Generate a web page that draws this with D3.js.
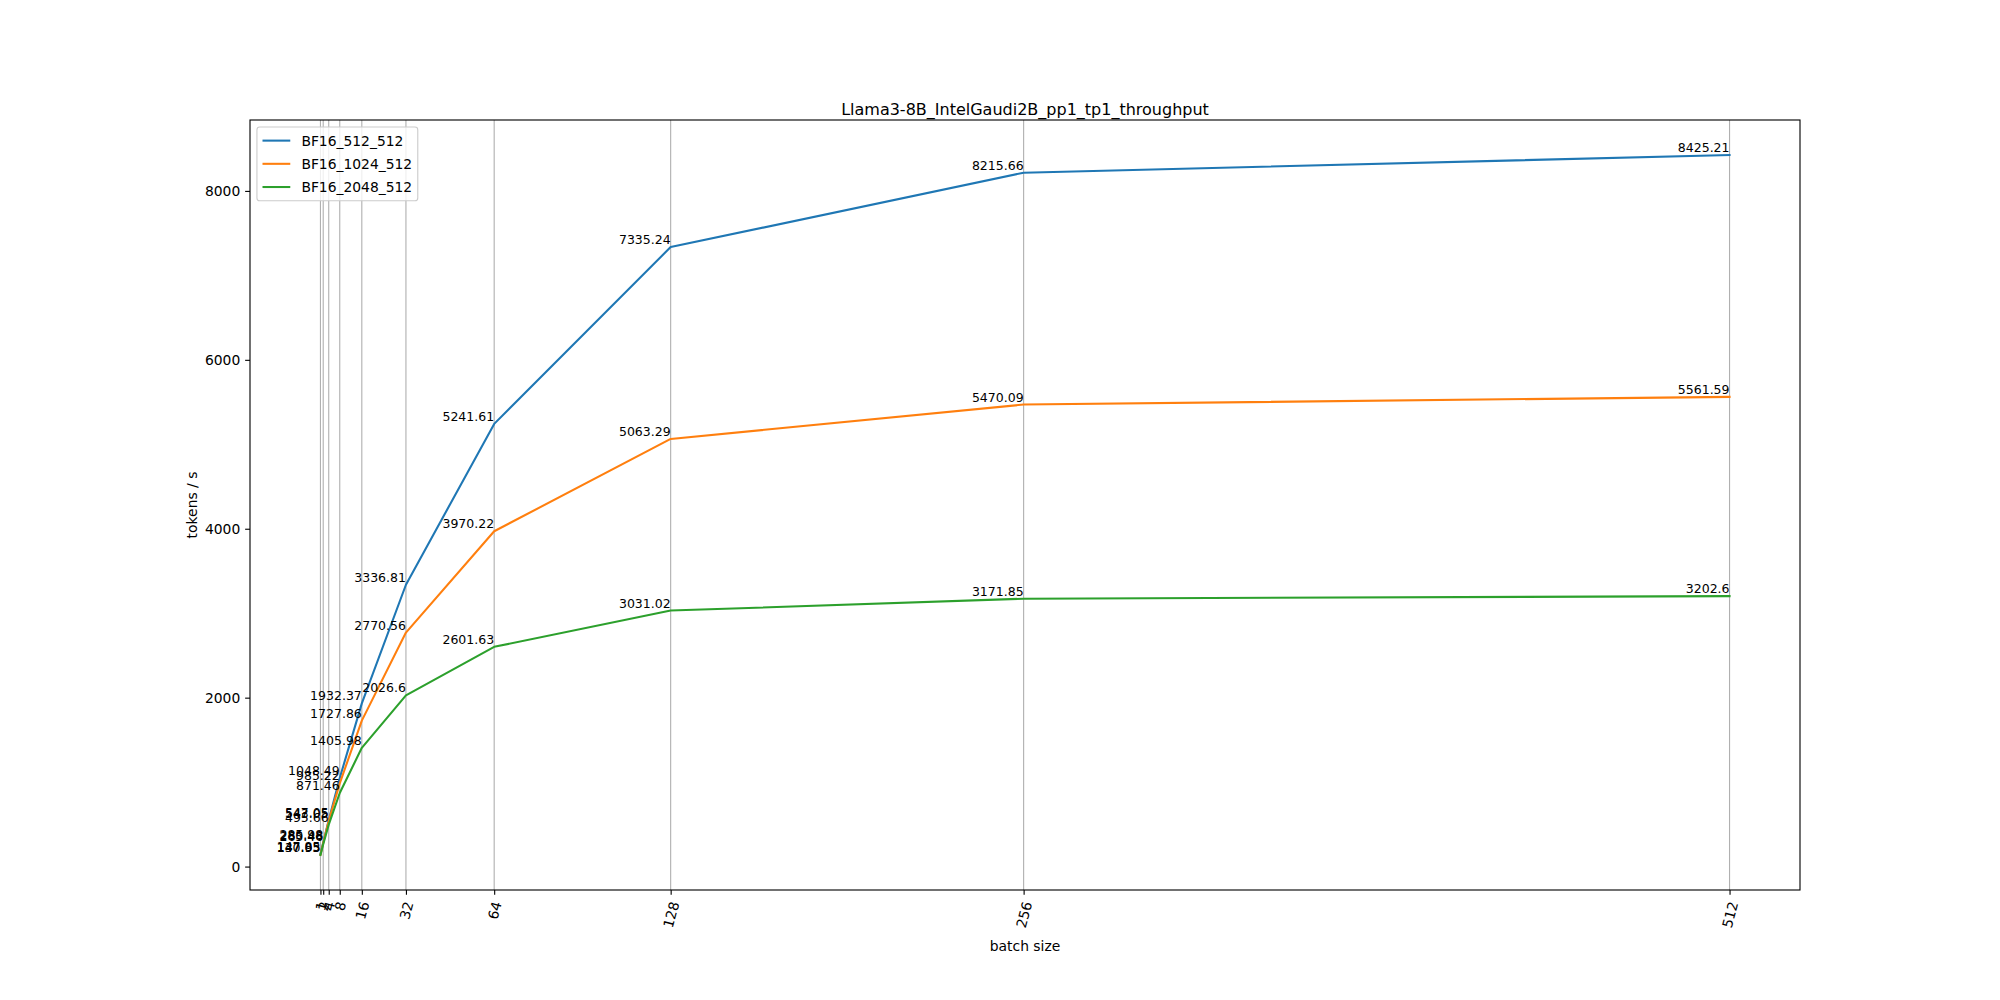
<!DOCTYPE html>
<html><head><meta charset="utf-8">
<script src="https://cdn.jsdelivr.net/npm/d3@7"></script>
<style>body{margin:0;background:#fff}text{font-family:"DejaVu Sans",sans-serif}</style>
</head><body><svg id="c" width="2000" height="1000"></svg>
<script>
const batchSizes = [1, 2, 4, 8, 16, 32, 64, 128, 256, 512];
const seriesNames = ["BF16_512_512", "BF16_1024_512", "BF16_2048_512"];
const bf16_512_512 = [147.85, 285.98, 547.05, 1048.49, 1932.37, 3336.81, 5241.61, 7335.24, 8215.66, 8425.21];
const bf16_1024_512 = [140.93, 280.48, 543.05, 985.22, 1727.86, 2770.56, 3970.22, 5063.29, 5470.09, 5561.59];
const bf16_2048_512 = [137.05, 265.46, 495.66, 871.46, 1405.98, 2026.6, 2601.63, 3031.02, 3171.85, 3202.6];
const yTicks = [0, 2000, 4000, 6000, 8000];
const colors = ["#1f77b4", "#ff7f0e", "#2ca02c"];
const titleText = "Llama3-8B_IntelGaudi2B_pp1_tp1_throughput";

const series = [bf16_512_512, bf16_1024_512, bf16_2048_512];
const svg = d3.select("#c");
const L = 250, R = 1800, T = 120, B = 890;
const fs = 13.89, fsv = 12.5;

const allV = series.flat();
const ymin = d3.min(allV), ymax = d3.max(allV);
const xm = (512 - 1) * 0.05, ym = (ymax - ymin) * 0.05;
const x = d3.scaleLinear().domain([1 - xm, 512 + xm]).range([L, R]);
const y = d3.scaleLinear().domain([ymin - ym, ymax + ym]).range([B, T]);

// grid (x only)
svg.append("g").selectAll("line").data(batchSizes).join("line")
  .attr("x1", d => x(d)).attr("x2", d => x(d)).attr("y1", T).attr("y2", B)
  .attr("stroke", "#b0b0b0").attr("stroke-width", 1.11);

// lines
const line = d3.line().x((d, i) => x(batchSizes[i])).y(d => y(d));
series.forEach((s, k) => {
  svg.append("path").datum(s).attr("d", line).attr("fill", "none")
    .attr("stroke", colors[k]).attr("stroke-width", 2.08).attr("stroke-linejoin", "round").attr("stroke-linecap", "square");
});
// value labels
series.forEach((s, k) => {
  svg.append("g").selectAll("text").data(s).join("text")
    .attr("x", (d, i) => x(batchSizes[i])).attr("y", d => y(d) - 2.95)
    .attr("text-anchor", "end").attr("font-size", fsv).attr("fill", "#000")
    .text(d => String(d));
});

// spines
svg.append("rect").attr("x", L).attr("y", T).attr("width", R - L).attr("height", B - T)
  .attr("fill", "none").attr("stroke", "#000").attr("stroke-width", 1.11);

// x axis
const xa = svg.append("g").attr("transform", `translate(0,${B})`)
  .call(d3.axisBottom(x).tickValues(batchSizes).tickSize(4.86).tickPadding(4.86).tickFormat(d3.format("d")));
xa.select(".domain").remove();
xa.selectAll("line").attr("stroke-width", 1.11);
xa.selectAll("text").each(function(d) {
  const t = d3.select(this);
  t.attr("font-size", fs).attr("font-family", "DejaVu Sans").attr("dy", null).attr("y", null);
  const w = this.getComputedTextLength();
  const h = fs * 1.17;
  const a = 75 * Math.PI / 180;
  const bh = w * Math.sin(a) + h * Math.cos(a);
  const cy = 4.86 + 4.86 + bh / 2;
  t.attr("text-anchor", "middle").attr("dominant-baseline", "central")
    .attr("transform", `translate(0,${cy}) rotate(-75)`);
});

// y axis
const ya = svg.append("g").attr("transform", `translate(${L},0)`)
  .call(d3.axisLeft(y).tickValues(yTicks).tickSize(4.86).tickPadding(4.86).tickFormat(d3.format("d")));
ya.select(".domain").remove();
ya.selectAll("line").attr("stroke-width", 1.11);
ya.selectAll("text").attr("font-size", fs).attr("font-family", "DejaVu Sans");

// labels
svg.append("text").attr("x", (L + R) / 2).attr("y", 115).attr("text-anchor", "middle")
  .attr("font-size", 16.0).text(titleText);
svg.append("text").attr("x", (L + R) / 2).attr("y", 951).attr("text-anchor", "middle")
  .attr("font-size", fs).text("batch size");
svg.append("text").attr("transform", `translate(197,${(T + B) / 2}) rotate(-90)`).attr("text-anchor", "middle")
  .attr("font-size", fs).text("tokens / s");

// legend
const lg = svg.append("g");
const lx = L + 6.94, ly = T + 6.94;
const rowH = fs * 1.17, sp = fs * 0.5;
const tmp = lg.selectAll("text.l").data(seriesNames).join("text").attr("class", "l")
  .attr("font-size", fs).text(d => d);
let maxW = 0; tmp.each(function(){ maxW = Math.max(maxW, this.getComputedTextLength()); });
const pad = fs * 0.4;
const fw = pad * 2 + fs * 2 + fs * 0.8 + maxW;
const fh = pad * 2 + rowH * 3 + sp * 2;
lg.insert("rect", "text").attr("x", lx).attr("y", ly).attr("width", fw).attr("height", fh)
  .attr("rx", 2.8).attr("fill", "#fff").attr("fill-opacity", 0.8).attr("stroke", "#cccccc").attr("stroke-width", 1.11);
seriesNames.forEach((n, i) => {
  const cy = ly + pad + rowH / 2 + i * (rowH + sp);
  lg.append("line").attr("x1", lx + pad).attr("x2", lx + pad + fs * 2).attr("y1", cy).attr("y2", cy)
    .attr("stroke", colors[i]).attr("stroke-width", 2.08);
});
tmp.attr("x", lx + pad + fs * 2 + fs * 0.8)
  .attr("y", (d, i) => ly + pad + rowH / 2 + i * (rowH + sp)).attr("dominant-baseline", "central");
</script></body></html>
